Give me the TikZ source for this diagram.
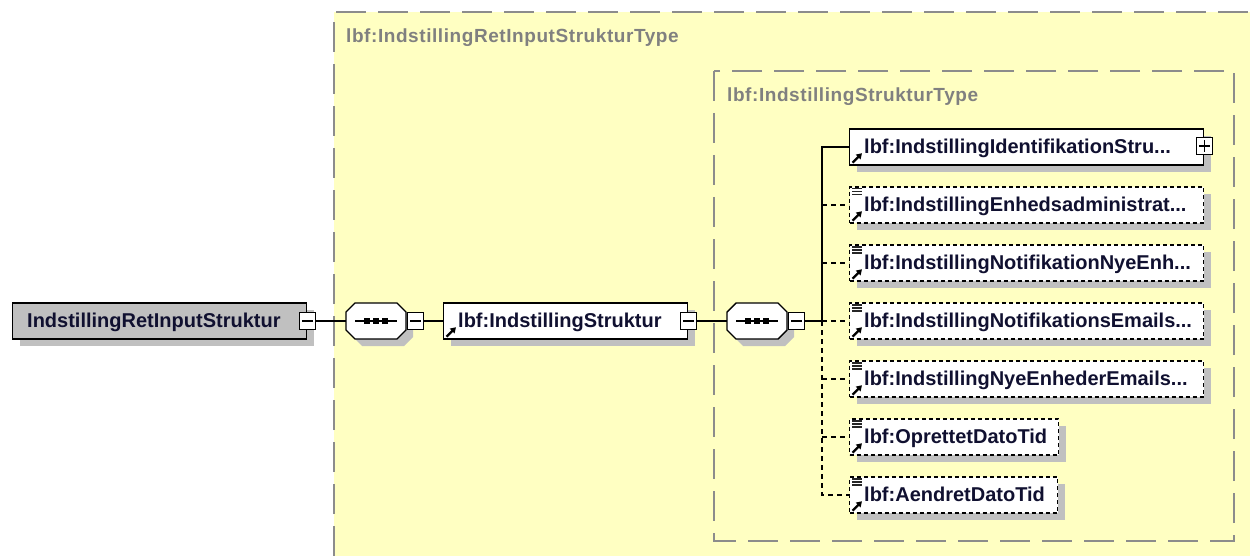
\documentclass[tikz,border=0pt]{standalone}
\usepackage{fontspec}
\newfontfamily\nodefont{Liberation Sans}
\newfontfamily\typefont[LetterSpace=3]{Liberation Sans}
\usetikzlibrary{shadows,arrows.meta,calc}
\definecolor{xyellow}{RGB}{255,255,194}
\definecolor{xgray}{RGB}{140,140,140}
\definecolor{xshadow}{RGB}{192,192,192}
\definecolor{xroot}{RGB}{192,192,192}
\definecolor{xtext}{RGB}{16,16,48}
\definecolor{xlabel}{RGB}{128,128,128}
\newcommand\xarrowicon[1]{\draw[-{Triangle[length=5.5pt,width=6.5pt]},line width=2.2pt,black] ($(#1.south west)+(3.5,-3)$) -- ++(9.5,-9.5);}
\newcommand\xlinesicon[1]{\foreach \dy in {2.5,5.5,8.5}{\draw[line width=1.4pt,black!85] ($(#1.north west)+(3,\dy)$) -- ++(10,0);}}
% octagon centred at (#1,#2), 60 x 36, chamfer 9
\newcommand\xoct[3]{\path[#3] ({#1-30},{#2-9}) -- ++(9,-9) -- ++(42,0) -- ++(9,9) -- ++(0,18) -- ++(-9,9) -- ++(-42,0) -- ++(-9,-9) -- cycle;}
\begin{document}
\begin{tikzpicture}[x=1pt,y=-1pt,
 shadowed/.style={drop shadow={shadow xshift=7pt,shadow yshift=-7pt,fill=xshadow,opacity=1}},
 elem/.style={draw=black,line width=1.4pt,fill=white,minimum height=36pt,inner sep=0pt,anchor=west,shadowed},
 optelem/.style={elem,dash pattern=on 4pt off 3pt},
 rootelem/.style={elem,fill=xroot},
 txt/.style={font=\nodefont\bfseries\fontsize{20}{24}\selectfont,text=xtext,inner sep=0pt,anchor=base west},
 typelbl/.style={font=\typefont\bfseries\fontsize{19}{23}\selectfont,text=xlabel,inner sep=0pt,anchor=base west},
 pm/.style={draw=black,line width=1.2pt,fill=white,minimum width=16pt,minimum height=17pt,inner sep=0pt},
 seqbox/.style={rectangle,minimum width=60pt,minimum height=36pt,inner sep=0pt},
 conn/.style={draw=black,line width=1.3pt},
 dconn/.style={conn,dash pattern=on 5pt off 4pt},
 typebox/.style={draw=xgray,line width=2pt,dash pattern=on 30pt off 12pt}
]
\useasboundingbox (0,0) rectangle (1250,556);
% outer type box
\fill[xyellow] (334,12) rectangle (1250,556);
\draw[typebox] (334,556) -- (334,12) -- (1250,12);
\node[typelbl] (outerlbl) at (346,43) {lbf:IndstillingRetInputStrukturType};
% inner type box
\draw[typebox] (714,71) rectangle (1234,541);
\node[typelbl] (innerlbl) at (727,101.5) {lbf:IndstillingStrukturType};

% root element
\node[rootelem,minimum width=294pt] (root) at (12,321) {};
\node[txt] (roott) at ($(root.west)+(15,6.5)$) {IndstillingRetInputStruktur};
\node[pm] (rootm) at (root.east) {};
\draw[line width=1.2pt] ($(rootm.west)+(3,0)$) -- ($(rootm.east)+(-3,0)$);

% sequence 1
\xoct{383}{328}{fill=xshadow}
\xoct{376}{321}{draw=black,line width=1.4pt,fill=white}
\node[seqbox] (seq1) at (376,321) {};
\draw[line width=1.3pt] ($(seq1.center)+(-21,0)$) -- ($(seq1.center)+(21,0)$);
\foreach \dx in {-9,0,9}{\fill ($(seq1.center)+(\dx-2.8,-2.8)$) rectangle ++(5.6,5.6);}
\node[pm,anchor=west] (seq1m) at ($(seq1.east)+(1,0)$) {};
\draw[line width=1.2pt] ($(seq1m.west)+(3,0)$) -- ($(seq1m.east)+(-3,0)$);

% middle element
\node[elem,minimum width=244pt] (mid) at (443,321) {};
\node[txt] (midt) at ($(mid.west)+(15,6.5)$) {lbf:IndstillingStruktur};
\xarrowicon{mid}
\node[pm] (midm) at (mid.east) {};
\draw[line width=1.2pt] ($(midm.west)+(3,0)$) -- ($(midm.east)+(-3,0)$);

% sequence 2
\xoct{764}{328}{fill=xshadow}
\xoct{757}{321}{draw=black,line width=1.4pt,fill=white}
\node[seqbox] (seq2) at (757,321) {};
\draw[line width=1.3pt] ($(seq2.center)+(-21,0)$) -- ($(seq2.center)+(21,0)$);
\foreach \dx in {-9,0,9}{\fill ($(seq2.center)+(\dx-2.8,-2.8)$) rectangle ++(5.6,5.6);}
\node[pm,anchor=west] (seq2m) at ($(seq2.east)+(1,0)$) {};
\draw[line width=1.2pt] ($(seq2m.west)+(3,0)$) -- ($(seq2m.east)+(-3,0)$);
\coordinate (trunk) at (822,321);

% children
\node[elem,minimum width=354pt] (n1) at (849,147) {};
\node[txt] (n1t) at ($(n1.west)+(15,6.5)$) {lbf:IndstillingIdentifikationStru...};
\xarrowicon{n1}
\node[pm] (n1p) at ($(n1.east)+(0,-1)$) {};
\draw[line width=1.2pt] ($(n1p.west)+(3,0)$) -- ($(n1p.east)+(-3,0)$);
\draw[line width=1.2pt] ($(n1p.north)+(0,3)$) -- ($(n1p.south)+(0,-3)$);

\node[optelem,minimum width=354pt] (n2) at (849,205) {};
\node[txt] (n2t) at ($(n2.west)+(15,6.5)$) {lbf:IndstillingEnhedsadministrat...};
\node[optelem,minimum width=354pt] (n3) at (849,263) {};
\node[txt] (n3t) at ($(n3.west)+(15,6.5)$) {lbf:IndstillingNotifikationNyeEnh...};
\node[optelem,minimum width=354pt] (n4) at (849,321) {};
\node[txt] (n4t) at ($(n4.west)+(15,6.5)$) {lbf:IndstillingNotifikationsEmails...};
\node[optelem,minimum width=354pt] (n5) at (849,379) {};
\node[txt] (n5t) at ($(n5.west)+(15,6.5)$) {lbf:IndstillingNyeEnhederEmails...};
\node[optelem,minimum width=209pt] (n6) at (849,437) {};
\node[txt] (n6t) at ($(n6.west)+(15,6.5)$) {lbf:OprettetDatoTid};
\node[optelem,minimum width=208pt] (n7) at (849,495) {};
\node[txt] (n7t) at ($(n7.west)+(15,6.5)$) {lbf:AendretDatoTid};
\foreach \n in {n2,n3,n4,n5,n6,n7}{\xarrowicon{\n}\xlinesicon{\n}}

% connectors
\draw[conn] (rootm.east) -- (seq1.west);
\draw[conn] (seq1m.east) -- (mid.west);
\draw[conn] (midm.east) -- (seq2.west);
\draw[conn] (seq2m.east) -- (trunk);
\draw[conn] (trunk) |- (n1.west);
\draw[dconn] (trunk) |- (n7.west);
\foreach \n in {n2,n3,n4,n5,n6}{\draw[dconn] (trunk |- \n.west) -- (\n.west);}
\end{tikzpicture}
\end{document}
